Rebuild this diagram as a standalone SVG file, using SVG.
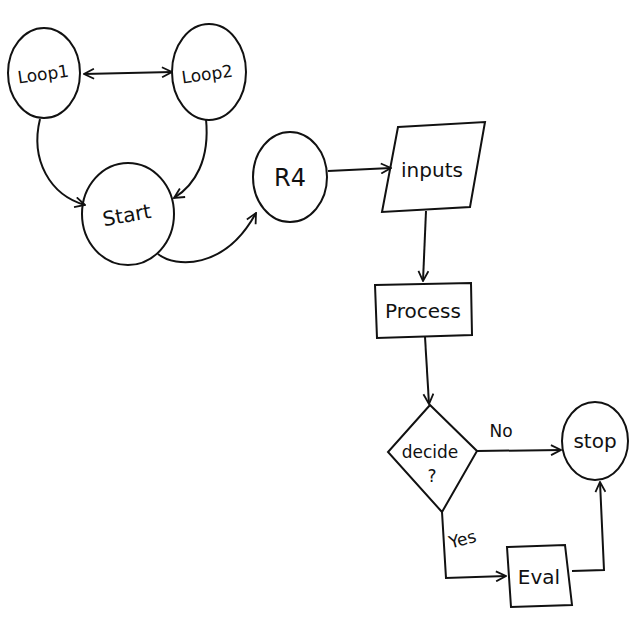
<svg xmlns="http://www.w3.org/2000/svg" width="640" height="640" viewBox="0 0 640 640">
<style>
.n{fill:none;stroke:#111;stroke-width:2}
.c{fill:none;stroke:#111;stroke-width:2}
.t{font-family:"DejaVu Sans","Liberation Sans",sans-serif;font-size:20px;fill:#111;text-anchor:middle}
</style>
<defs>
<marker id="a" viewBox="0 0 12 12" refX="11" refY="6" markerWidth="12" markerHeight="12" markerUnits="userSpaceOnUse" orient="auto-start-reverse">
<path d="M1,1 L11,6 L1,11" fill="none" stroke="#111" stroke-width="1.8"/>
</marker>
</defs>
<rect width="640" height="640" fill="#fff"/>
<g id="loop1"><ellipse class="n" cx="44" cy="73" rx="36" ry="45"/><text class="t" x="44" y="80" style="font-size:17px" transform="rotate(-8 44 80)">Loop1</text></g>
<g id="loop2"><ellipse class="n" cx="209" cy="72" rx="37" ry="48"/><text class="t" x="208" y="80" style="font-size:17px" transform="rotate(-8 208 80)">Loop2</text></g>
<g id="start"><ellipse class="n" cx="128" cy="214" rx="46" ry="51"/><text class="t" x="128" y="222" transform="rotate(-10 128 222)">Start</text></g>
<g id="r4"><ellipse class="n" cx="290" cy="177" rx="37" ry="45"/><text class="t" x="290" y="186" style="font-size:24px">R4</text></g>
<g id="inputs"><polygon class="n" points="398,127 485,122 470,207 382,212"/><text class="t" x="432" y="177">inputs</text></g>
<g id="process"><polygon class="n" points="375,285 471,283 472,335 377,338"/><text class="t" x="423" y="318">Process</text></g>
<g id="decide"><polygon class="n" points="430,405 477,451 442,512 388,452"/><text class="t" x="430" y="458" style="font-size:17px">decide</text><text class="t" x="432" y="482" style="font-size:17px">?</text></g>
<g id="stop"><ellipse class="n" cx="595" cy="441" rx="33" ry="39"/><text class="t" x="595" y="448">stop</text></g>
<g id="eval"><polygon class="n" points="507,547 565,545 572,605 511,607"/><text class="t" x="539" y="584">Eval</text></g>
<g id="connectors">
<path class="c" d="M84,74 L172,72" marker-start="url(#a)" marker-end="url(#a)"/>
<path class="c" d="M40,119 C30,160 50,195 85,205" marker-end="url(#a)"/>
<path class="c" d="M206,119 C210,160 195,185 174,198" marker-end="url(#a)"/>
<path class="c" d="M158,254 C175,268 225,270 256,213" marker-end="url(#a)"/>
<path class="c" d="M328,171 L391,168" marker-end="url(#a)"/>
<path class="c" d="M426,211 L423,281" marker-end="url(#a)"/>
<path class="c" d="M425,337 L429,404" marker-end="url(#a)"/>
<path class="c" d="M477,451 L561,450" marker-end="url(#a)"/>
<path class="c" d="M442,512 L446,578 L506,576" marker-end="url(#a)"/>
<path class="c" d="M572,571 L604,570 L600,482" marker-end="url(#a)"/>
<text class="t" x="501" y="437" style="font-size:17px">No</text>
<text class="t" x="464" y="545" style="font-size:17px" transform="rotate(-15 464 545)">Yes</text>
</g>
</svg>
